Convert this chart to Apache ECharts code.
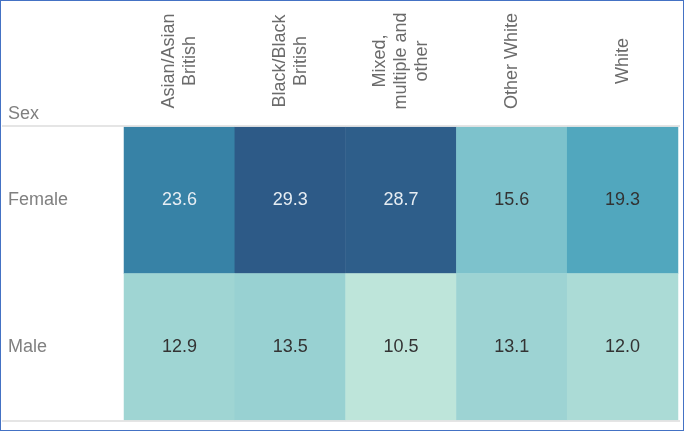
<!DOCTYPE html>
<html>
<head>
<meta charset="utf-8">
<script src="https://cdn.jsdelivr.net/npm/echarts@6/dist/echarts.min.js"></script>
<style>
html,body{margin:0;padding:0;background:#fff;}
#frame{position:absolute;left:0;top:0;width:684px;height:431px;border:1.5px solid #4472C4;box-sizing:border-box;}
#chart{position:absolute;left:0;top:0;width:686px;height:433px;}
</style>
</head>
<body>
<div id="chart"></div>
<div id="frame"></div>
<script>
const categories = ['Asian/Asian\nBritish', 'Black/Black\nBritish', 'Mixed,\nmultiple and\nother', 'Other White', 'White'];
const sexes = ['Male', 'Female'];
const femaleValues = [23.6, 29.3, 28.7, 15.6, 19.3];
const maleValues = [12.9, 13.5, 10.5, 13.1, 12.0];

const data = [];
femaleValues.forEach((v, i) => data.push([i, 1, v]));
maleValues.forEach((v, i) => data.push([i, 0, v]));
const seriesData = data.map(d => ({
  value: d,
  label: { color: d[2] > 20 ? '#e6edf3' : '#333333' }
}));

const FONT = 'Liberation Sans, Arial';
const chart = echarts.init(document.getElementById('chart'), null, { renderer: 'canvas' });
chart.setOption({
  animation: false,
  backgroundColor: '#ffffff',
  title: {
    text: 'Sex', left: 3, top: 100,
    textStyle: { fontFamily: FONT, fontSize: 18, fontWeight: 'normal', color: '#808080' }
  },
  grid: { left: 124, right: 8, top: 127, bottom: 13 },
  xAxis: {
    type: 'category', position: 'top', data: categories,
    axisLine: { show: false }, axisTick: { show: false }, splitLine: { show: false },
    axisLabel: {
      rotate: -90, align: 'center', verticalAlign: 'middle', margin: 66,
      fontFamily: FONT, fontSize: 18, color: '#6b6b6b', lineHeight: 21
    }
  },
  yAxis: {
    type: 'category', data: sexes,
    axisLine: { show: false }, axisTick: { show: false }, splitLine: { show: false },
    axisLabel: {
      align: 'left', margin: 116,
      fontFamily: FONT, fontSize: 18, color: '#808080'
    }
  },
  visualMap: {
    show: false, type: 'continuous', min: 10.5, max: 29.3, dimension: 2,
    inRange: { color: ['#bee5da', '#82c5cd', '#4aa3bc', '#3279a0', '#2d5a87'] }
  },
  series: [{
    type: 'heatmap',
    data: seriesData,
    label: {
      show: true, fontFamily: FONT, fontSize: 18,
      formatter: p => p.value[2].toFixed(1)
    },
    itemStyle: { borderWidth: 0 },
    emphasis: { disabled: true }
  }],
  graphic: [
    { type: 'line', shape: { x1: 2, y1: 126, x2: 680, y2: 126 }, style: { stroke: '#dddddd', lineWidth: 1.5 }, z: 100 },
    { type: 'line', shape: { x1: 2, y1: 421, x2: 680, y2: 421 }, style: { stroke: '#dddddd', lineWidth: 1.5 }, z: 100 }
  ]
});
</script>
</body>
</html>
